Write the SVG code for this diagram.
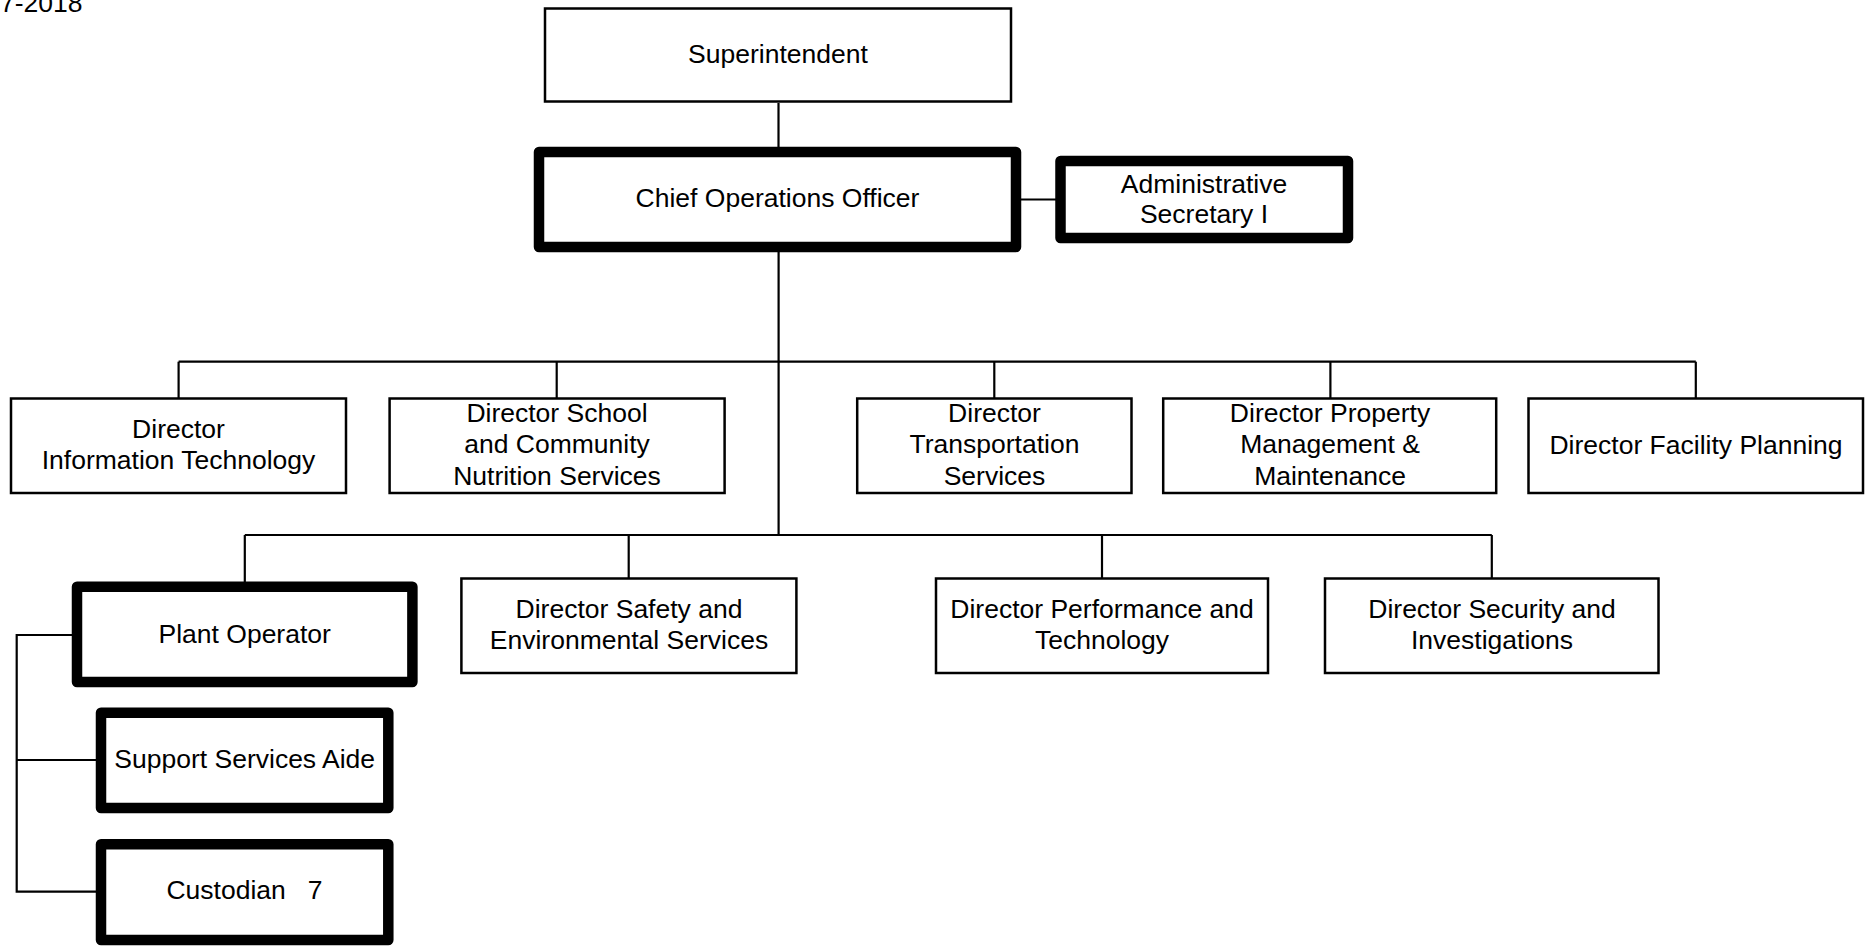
<svg xmlns="http://www.w3.org/2000/svg" width="1874" height="946" viewBox="0 0 1874 946">
<style>
text{font-family:"Liberation Sans",Arial,sans-serif;font-size:26.5px;fill:#000;text-anchor:middle}
.thin{fill:#fff;stroke:#000;stroke-width:2.5}
.thick{fill:#fff;stroke:#000;stroke-width:10.5;stroke-linejoin:round}
.conn{stroke:#000;stroke-width:2.2;fill:none}
</style>
<rect width="1874" height="946" fill="#fff"/>
<text x="0" y="11.7" style="text-anchor:start">7-2018</text>
<g id="connectors" class="conn">
<line x1="778.5" y1="103" x2="778.5" y2="147"/>
<line x1="1021" y1="199.5" x2="1056" y2="199.5"/>
<line x1="778.6" y1="252" x2="778.6" y2="535"/>
<line x1="178.6" y1="361.7" x2="1695.8" y2="361.7"/>
<line x1="178.6" y1="361.7" x2="178.6" y2="398"/>
<line x1="556.7" y1="361.7" x2="556.7" y2="398"/>
<line x1="994.3" y1="361.7" x2="994.3" y2="398"/>
<line x1="1330.4" y1="361.7" x2="1330.4" y2="398"/>
<line x1="1695.8" y1="361.7" x2="1695.8" y2="398"/>
<line x1="244.8" y1="535" x2="1491.8" y2="535"/>
<line x1="244.8" y1="535" x2="244.8" y2="582"/>
<line x1="628.7" y1="535" x2="628.7" y2="578"/>
<line x1="1102" y1="535" x2="1102" y2="578"/>
<line x1="1491.8" y1="535" x2="1491.8" y2="578"/>
<polyline points="72,635 16.7,635 16.7,891.7 96,891.7"/>
<line x1="16.7" y1="760" x2="96" y2="760"/>
</g>
<g id="superintendent"><rect class="thin" x="545" y="8.5" width="466" height="93"/><text x="778" y="63">Superintendent</text></g>
<g id="coo"><rect class="thick" x="539" y="152" width="477" height="95"/><text x="777.5" y="207">Chief Operations Officer</text></g>
<g id="admin-secretary"><rect class="thick" x="1060.5" y="161" width="287.5" height="77"/><text x="1204" y="192.7">Administrative</text><text x="1204" y="222.7">Secretary I</text></g>
<g id="dir-it"><rect class="thin" x="11" y="398.5" width="335" height="94.5"/><text x="178.5" y="437.7">Director</text><text x="178.5" y="469.3">Information Technology</text></g>
<g id="dir-nutrition"><rect class="thin" x="389.6" y="398.5" width="335" height="94.5"/><text x="557" y="421.7">Director School</text><text x="557" y="453.3">and Community</text><text x="557" y="485">Nutrition Services</text></g>
<g id="dir-transportation"><rect class="thin" x="857.2" y="398.5" width="274.3" height="94.5"/><text x="994.5" y="421.7">Director</text><text x="994.5" y="453.3">Transportation</text><text x="994.5" y="485">Services</text></g>
<g id="dir-property"><rect class="thin" x="1163.2" y="398.5" width="333" height="94.5"/><text x="1330" y="421.7">Director Property</text><text x="1330" y="453.3">Management &amp;</text><text x="1330" y="485">Maintenance</text></g>
<g id="dir-facility"><rect class="thin" x="1528.5" y="398.5" width="334.5" height="94.5"/><text x="1696" y="454">Director Facility Planning</text></g>
<g id="plant-operator"><rect class="thick" x="77" y="586.7" width="335.4" height="95.3"/><text x="244.7" y="642.7">Plant Operator</text></g>
<g id="dir-safety"><rect class="thin" x="461.4" y="578.5" width="335" height="94.5"/><text x="629" y="617.5">Director Safety and</text><text x="629" y="649">Environmental Services</text></g>
<g id="dir-performance"><rect class="thin" x="936" y="578.5" width="332" height="94.5"/><text x="1102" y="617.5">Director Performance and</text><text x="1102" y="649">Technology</text></g>
<g id="dir-security"><rect class="thin" x="1325" y="578.5" width="333.5" height="94.5"/><text x="1492" y="617.5">Director Security and</text><text x="1492" y="649">Investigations</text></g>
<g id="support-aide"><rect class="thick" x="101" y="712.7" width="287.3" height="95.3"/><text x="244.7" y="767.7">Support Services Aide</text></g>
<g id="custodian"><rect class="thick" x="101" y="844.3" width="287.3" height="95.7"/><text x="244.5" y="899.3" xml:space="preserve">Custodian   7</text></g>
</svg>
